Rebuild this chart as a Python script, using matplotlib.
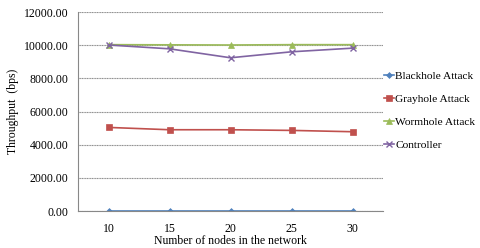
import numpy as np
import matplotlib
matplotlib.use('Agg')
import matplotlib.pyplot as plt

plt.rcParams['font.family'] = ['Liberation Serif', 'DejaVu Serif']

nodes = ['10', '15', '20', '25', '30']
blackhole = [20, 20, 20, 20, 20]
grayhole = [5040, 4900, 4900, 4860, 4780]
wormhole = [10030, 10020, 10010, 10030, 10030]
controller = [10010, 9780, 9240, 9600, 9820]

series = [
    ('Blackhole Attack', blackhole, '#4F81BD', 'D', 3),
    ('Grayhole Attack', grayhole, '#C0504D', 's', 4),
    ('Wormhole Attack', wormhole, '#9BBB59', '^', 4),
    ('Controller', controller, '#8064A2', 'x', 4),
]

fig = plt.figure(figsize=(4.81, 2.48), dpi=100)
ax = fig.add_axes([78 / 481, 1 - 211 / 248, 305 / 481, 199 / 248])

x = np.arange(len(nodes))
for name, vals, col, mk, ms in series:
    ax.plot(x, vals, color=col, marker=mk, markersize=ms, linewidth=1.2,
            markeredgewidth=1.0 if mk == 'x' else 0.5, label=name)

ax.set_xlim(-0.5, len(nodes) - 0.5)
ax.set_ylim(0, 12000)
ax.set_yticks(np.arange(0, 12001, 2000))
ax.set_yticklabels(['%.2f' % v for v in np.arange(0, 12001, 2000)])
ax.set_xticks(x)
ax.set_xticklabels(nodes)
ax.tick_params(axis='y', labelsize=8.5, length=0, pad=7)
ax.tick_params(axis='x', labelsize=8.5, length=0, pad=9)
ax.yaxis.grid(True, linestyle=(0, (1, 0.5)), color='#8c8c8c', linewidth=0.8)
ax.set_axisbelow(True)
for s in ['top', 'right']:
    ax.spines[s].set_visible(False)
for s in ['left', 'bottom']:
    ax.spines[s].set_color('#888888')
    ax.spines[s].set_linewidth(0.8)

ax.set_ylabel('Throughput  (bps)', fontsize=8.5, labelpad=3)
ax.set_xlabel('Number of nodes in the network', fontsize=8.5, labelpad=0)

ax.legend(loc='center left', bbox_to_anchor=(0.995, 0.505), frameon=False,
          fontsize=8.2, handlelength=0.9, handletextpad=0.1,
          labelspacing=1.17, borderaxespad=0.0, borderpad=0.2)

fig.savefig('out.png', dpi=100)
